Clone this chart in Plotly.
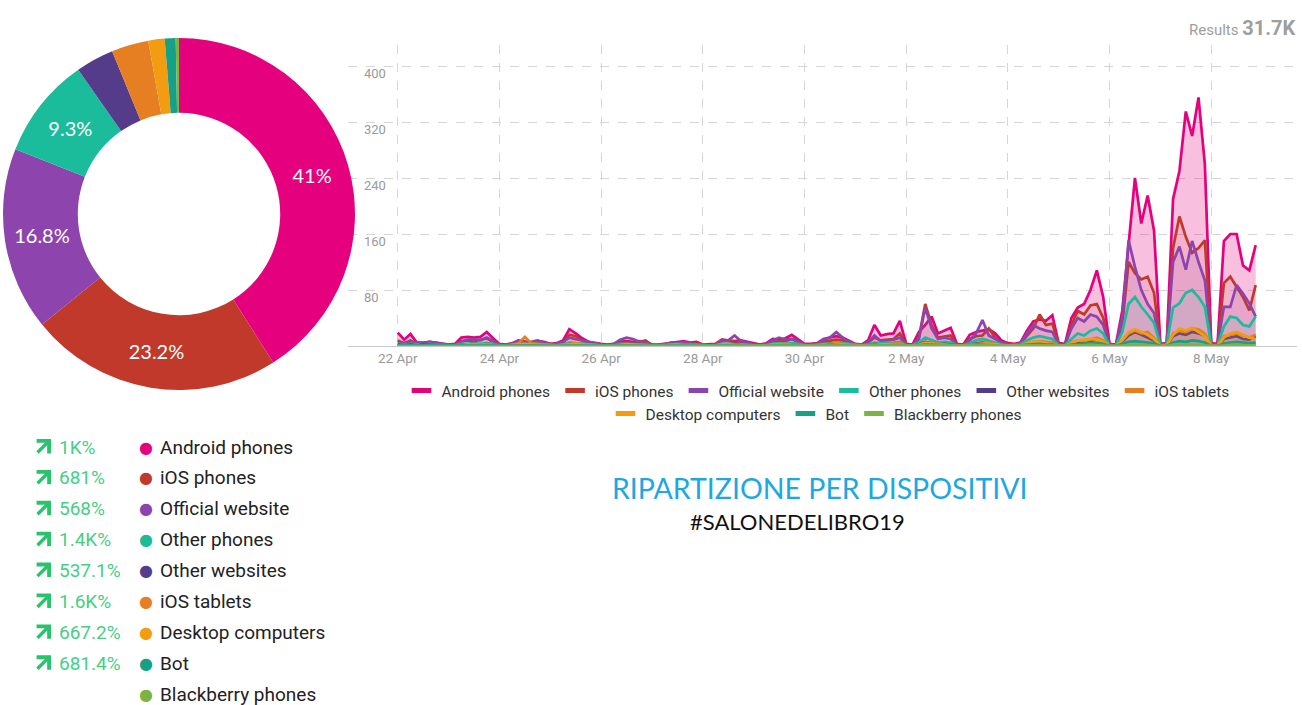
import pandas as pd
import plotly.graph_objects as go

W, H = 1302, 705


def px(x):
    return x / W


def py(y):
    return 1 - y / H


# ---------------- data ----------------
devices = ["Android phones", "iOS phones", "Official website", "Other phones",
           "Other websites", "iOS tablets", "Desktop computers", "Bot",
           "Blackberry phones"]
colors = ["#e5007e", "#c0392b", "#8e44ad", "#1abc9c", "#553c8b",
          "#e67e22", "#f39c12", "#16a085", "#7cb342"]
shares = [41, 23.2, 16.8, 9.3, 3.5, 3.4, 1.5, 1.0, 0.3]
changes = ["1K%", "681%", "568%", "1.4K%", "537.1%", "1.6K%", "667.2%", "681.4%", ""]
results_total = "31.7K"

# 3-hourly timestamps from 22 Apr 2019 00:00 to 8 May 2019 21:00
times = pd.date_range("2019-04-22 00:00", periods=136, freq="3h")

android = [19, 9, 17, 5, 5, 6, 5, 3,
           2, 3, 12, 13, 12, 13, 20, 11,
           3, 2, 4, 8, 7, 5, 7, 6,
           3, 4, 8, 24, 18, 11, 6, 4,
           3, 2, 3, 6, 7, 6, 7, 6,
           2, 2, 3, 5, 6, 7, 5, 6,
           2, 2, 3, 9, 8, 7, 8, 6,
           3, 2, 4, 10, 9, 11, 16, 9,
           3, 3, 4, 10, 12, 14, 12, 8,
           3, 2, 8, 30, 15, 17, 18, 36,
           3, 2, 20, 30, 42, 18, 22, 26,
           3, 2, 16, 20, 22, 24, 18, 8,
           4, 3, 5, 22, 35, 38, 36, 44,
           4, 3, 40, 55, 60, 80, 108, 70,
           3, 2, 50, 140, 240, 175, 215, 165,
           3, 4, 210, 250, 335, 300, 355, 260,
           4, 3, 150, 160, 160, 115, 108, 144]
ios_phones = [8, 4, 8, 3, 3, 4, 3, 2,
              1, 2, 7, 8, 7, 9, 11, 6,
              2, 1, 3, 6, 5, 4, 5, 4,
              2, 2, 5, 16, 14, 8, 4, 3,
              2, 1, 2, 4, 5, 4, 6, 8,
              1, 1, 2, 4, 5, 5, 3, 4,
              1, 1, 2, 9, 7, 6, 5, 4,
              2, 1, 3, 7, 6, 7, 10, 6,
              2, 2, 3, 6, 8, 9, 8, 5,
              2, 1, 5, 12, 8, 9, 10, 18,
              2, 1, 12, 60, 30, 12, 14, 15,
              2, 1, 10, 14, 15, 25, 12, 5,
              2, 2, 4, 15, 25, 45, 30, 32,
              3, 2, 30, 50, 45, 58, 60, 40,
              2, 1, 30, 120, 104, 95, 99, 76,
              2, 3, 140, 185, 156, 133, 140, 151,
              3, 2, 90, 99, 85, 70, 51, 87]
official_site = [5, 4, 6, 5, 4, 6, 5, 3,
                 1, 2, 6, 9, 10, 8, 12, 7,
                 2, 1, 3, 7, 5, 6, 8, 5,
                 2, 3, 6, 12, 10, 8, 6, 3,
                 2, 1, 3, 9, 12, 10, 6, 5,
                 1, 1, 2, 5, 4, 6, 4, 3,
                 1, 1, 2, 7, 8, 15, 7, 5,
                 2, 1, 3, 8, 12, 9, 10, 7,
                 2, 2, 3, 9, 12, 20, 12, 6,
                 2, 1, 5, 15, 7, 8, 9, 12,
                 2, 1, 10, 55, 25, 10, 12, 10,
                 2, 1, 8, 18, 37, 15, 10, 5,
                 2, 2, 4, 18, 30, 25, 22, 20,
                 2, 2, 25, 40, 35, 45, 42, 30,
                 2, 1, 40, 151, 113, 80, 60, 47,
                 2, 3, 120, 142, 109, 150, 120, 94,
                 3, 2, 56, 56, 87, 75, 61, 42]
other_phones = [3, 2, 3, 2, 2, 3, 2, 1,
                1, 1, 3, 3, 4, 3, 4, 3,
                1, 1, 2, 3, 3, 2, 3, 2,
                1, 1, 2, 5, 4, 3, 2, 2,
                1, 1, 1, 3, 3, 3, 2, 2,
                1, 1, 1, 2, 3, 2, 2, 2,
                1, 1, 1, 3, 3, 3, 2, 2,
                1, 1, 1, 3, 4, 3, 4, 3,
                1, 1, 2, 4, 4, 5, 4, 3,
                1, 1, 2, 5, 4, 4, 5, 6,
                1, 1, 5, 12, 9, 5, 6, 5,
                1, 1, 4, 8, 10, 7, 5, 2,
                1, 1, 2, 8, 12, 14, 12, 10,
                1, 1, 10, 18, 15, 22, 25, 18,
                1, 1, 20, 60, 70, 56, 45, 33,
                1, 2, 55, 61, 76, 80, 70, 56,
                1, 1, 28, 42, 40, 30, 28, 42]
other_websites = [2, 1, 2, 1, 2, 2, 1, 1,
                  0, 1, 2, 2, 3, 2, 3, 2,
                  1, 0, 1, 2, 2, 1, 2, 1,
                  1, 1, 1, 3, 3, 2, 1, 1,
                  0, 0, 1, 2, 2, 2, 1, 1,
                  0, 0, 1, 1, 2, 1, 1, 1,
                  0, 0, 1, 2, 2, 3, 1, 1,
                  0, 0, 1, 2, 2, 2, 2, 1,
                  1, 0, 1, 2, 3, 4, 2, 1,
                  0, 0, 1, 3, 2, 2, 2, 3,
                  1, 0, 2, 6, 4, 2, 3, 2,
                  0, 0, 2, 3, 5, 3, 2, 1,
                  1, 0, 1, 3, 5, 6, 5, 4,
                  1, 0, 4, 6, 6, 8, 9, 6,
                  1, 0, 6, 15, 20, 16, 12, 8,
                  1, 1, 14, 18, 16, 20, 18, 15,
                  1, 0, 10, 12, 14, 10, 9, 14]
ios_tablets = [1, 1, 2, 2, 2, 2, 2, 1,
               0, 1, 2, 2, 3, 2, 3, 2,
               1, 0, 2, 4, 13, 4, 3, 2,
               1, 1, 2, 3, 4, 3, 2, 1,
               0, 0, 1, 2, 3, 2, 2, 1,
               0, 0, 1, 2, 2, 2, 1, 1,
               0, 0, 1, 2, 3, 2, 2, 1,
               0, 0, 1, 2, 3, 3, 2, 2,
               1, 0, 1, 3, 3, 4, 3, 2,
               0, 0, 1, 3, 2, 3, 3, 4,
               1, 0, 2, 5, 4, 3, 3, 2,
               0, 0, 2, 3, 4, 4, 3, 1,
               1, 0, 1, 4, 6, 7, 6, 5,
               1, 0, 5, 8, 7, 10, 12, 8,
               1, 0, 8, 18, 22, 18, 20, 12,
               1, 1, 18, 22, 20, 25, 24, 18,
               1, 0, 14, 16, 18, 15, 12, 16]
desktop = [1, 0, 1, 1, 2, 2, 1, 1,
           0, 0, 1, 2, 2, 2, 2, 1,
           0, 0, 1, 2, 3, 2, 2, 1,
           0, 0, 1, 2, 3, 2, 1, 1,
           0, 0, 1, 2, 2, 2, 1, 1,
           0, 0, 1, 1, 2, 1, 1, 0,
           0, 0, 1, 2, 2, 2, 1, 1,
           0, 0, 1, 2, 2, 2, 1, 1,
           0, 0, 1, 2, 3, 3, 2, 1,
           0, 0, 1, 2, 2, 2, 1, 1,
           0, 0, 1, 4, 3, 2, 2, 1,
           0, 0, 1, 3, 3, 3, 2, 1,
           0, 0, 1, 4, 6, 6, 4, 3,
           0, 0, 4, 8, 9, 10, 9, 6,
           0, 0, 8, 20, 24, 20, 16, 10,
           0, 1, 16, 25, 22, 26, 20, 14,
           0, 0, 12, 18, 20, 16, 12, 10]
bot = [1, 1, 1, 1, 1, 1, 1, 1,
       0, 0, 1, 1, 1, 1, 1, 1,
       0, 0, 1, 1, 1, 1, 1, 0,
       0, 0, 1, 1, 1, 1, 1, 0,
       0, 0, 1, 1, 1, 1, 1, 0,
       0, 0, 0, 1, 1, 1, 1, 0,
       0, 0, 1, 1, 1, 1, 1, 0,
       0, 0, 1, 1, 1, 1, 1, 1,
       0, 0, 1, 1, 2, 1, 1, 1,
       0, 0, 1, 2, 1, 1, 1, 1,
       0, 0, 1, 2, 2, 1, 1, 1,
       0, 0, 1, 2, 2, 1, 1, 0,
       0, 0, 1, 2, 3, 3, 2, 2,
       0, 0, 2, 3, 3, 4, 4, 3,
       0, 0, 3, 6, 7, 6, 5, 4,
       0, 0, 5, 7, 6, 8, 7, 5,
       0, 0, 4, 5, 6, 5, 4, 5]
blackberry = [0, 0, 0, 0, 0, 0, 0, 0,
              0, 0, 0, 0, 1, 0, 0, 0,
              0, 0, 0, 0, 0, 0, 0, 0,
              0, 0, 0, 1, 0, 0, 0, 0,
              0, 0, 0, 0, 0, 0, 0, 0,
              0, 0, 0, 0, 0, 0, 0, 0,
              0, 0, 0, 0, 1, 0, 0, 0,
              0, 0, 0, 0, 0, 0, 0, 0,
              0, 0, 0, 0, 0, 1, 0, 0,
              0, 0, 0, 1, 0, 0, 0, 0,
              0, 0, 0, 1, 0, 0, 0, 0,
              0, 0, 0, 0, 1, 0, 0, 0,
              0, 0, 0, 1, 1, 1, 0, 0,
              0, 0, 1, 1, 1, 2, 1, 1,
              0, 0, 1, 2, 2, 2, 1, 1,
              0, 0, 2, 2, 2, 3, 2, 1,
              0, 0, 1, 2, 2, 1, 1, 1]

series = [android, ios_phones, official_site, other_phones, other_websites,
          ios_tablets, desktop, bot, blackberry]

y_ticks = [80, 160, 240, 320, 400]


def rgba(hex_color, a):
    h = hex_color.lstrip("#")
    r, g, b = int(h[0:2], 16), int(h[2:4], 16), int(h[4:6], 16)
    return f"rgba({r},{g},{b},{a})"


fig = go.Figure()

# ---------------- donut ----------------
fig.add_trace(go.Pie(
    labels=devices, values=shares, sort=False, direction="clockwise",
    hole=0.575, marker=dict(colors=colors, line=dict(width=0)),
    text=[f"{v:g}%" if v > 5 else "" for v in shares],
    textinfo="text", textposition="inside",
    insidetextorientation="horizontal",
    textfont=dict(family="Lato", size=20, color="white"),
    domain=dict(x=[px(3), px(355)], y=[py(390), py(38)]),
    showlegend=False, hoverinfo="label+percent",
))

# ---------------- time series ----------------
for i, (name, col, vals) in enumerate(zip(devices, colors, series)):
    fig.add_trace(go.Scatter(
        x=times, y=vals, name=name, mode="lines",
        line=dict(color=col, width=2.7, shape="linear"),
        fill="tozeroy",
        fillcolor=rgba(col, 0.25 if i == 0 else 0.10),
        legendgroup=name, showlegend=False,
    ))

# legend entries (short thick bars, as in the original legend)
for i, (name, col) in enumerate(zip(devices, colors)):
    fig.add_trace(go.Scatter(
        x=[None], y=[None], name=name, mode="markers",
        marker=dict(symbol="line-ew", size=14, color=col,
                    line=dict(color=col, width=5)),
        legendgroup=name,
        legend="legend" if i < 6 else "legend2",
        legendrank=i, hoverinfo="skip",
    ))

grid = dict(showgrid=True, gridcolor="#d6d6d6", griddash="dash", gridwidth=1)

fig.update_layout(
    width=W, height=H, autosize=False,
    margin=dict(l=0, r=0, t=0, b=0),
    paper_bgcolor="white", plot_bgcolor="white",
    font=dict(family="Roboto", color="#333333"),
    xaxis=dict(
        domain=[px(348), px(1297)],
        type="date",
        range=["2019-04-21 00:30", "2019-05-09 16:30"],
        tick0="2019-04-22", dtick=2 * 86400000,
        tickformat="%-d %b",
        tickfont=dict(family="Roboto", size=13.5, color="#9a9a9a"),
        showline=True, linecolor="#c8c8c8", linewidth=1,
        ticks="", zeroline=False,
        **grid,
    ),
    yaxis=dict(
        domain=[py(346), py(45)],
        range=[0, 430],
        tickvals=y_ticks,
        ticklabelposition="inside",
        ticklabelstandoff=13,
        ticklabelshift=7,
        tickfont=dict(family="Roboto", size=13, color="#9a9a9a"),
        zeroline=False, ticks="",
        **grid,
    ),
    legend=dict(
        orientation="h", x=px(818), xanchor="center",
        y=py(374), yanchor="top",
        font=dict(family="Roboto", size=15.5, color="#333333"),
        itemwidth=30, bgcolor="rgba(0,0,0,0)",
    ),
    legend2=dict(
        orientation="h", x=px(816), xanchor="center",
        y=py(397), yanchor="top",
        font=dict(family="Roboto", size=15.5, color="#333333"),
        itemwidth=30, bgcolor="rgba(0,0,0,0)",
    ),
)

annotations = []
# Results total
annotations.append(dict(
    x=px(1297), y=py(28), xref="paper", yref="paper",
    xanchor="right", yanchor="middle", showarrow=False,
    text=f"Results <span style='font-size:20px'><b>{results_total}</b></span>",
    font=dict(family="Roboto", size=15, color="#9e9e9e"),
))

# Left list of devices with growth
for i, (name, col, chg) in enumerate(zip(devices, colors, changes)):
    y_px = 447 + 30.9 * i
    yy = py(y_px)
    if chg:
        annotations.append(dict(
            x=px(51), y=py(y_px - 8), xref="paper", yref="paper",
            text="", showarrow=True, ax=-15, ay=15,
            arrowhead=4, arrowsize=1.0, arrowwidth=3.4,
            arrowcolor="#27c46b", standoff=0, startstandoff=0,
        ))
        annotations.append(dict(
            x=px(57), y=yy, xref="paper", yref="paper", xanchor="left",
            yanchor="middle", showarrow=False, text=chg,
            font=dict(family="Roboto", size=19, color="#45cf85"),
        ))
    annotations.append(dict(
        x=px(146), y=yy, xref="paper", yref="paper", xanchor="center",
        yanchor="middle", showarrow=False, text="●",
        font=dict(family="DejaVu Sans", size=16, color=col),
    ))
    annotations.append(dict(
        x=px(158), y=yy, xref="paper", yref="paper", xanchor="left",
        yanchor="middle", showarrow=False, text=name,
        font=dict(family="Roboto", size=19, color="#222222"),
    ))

# Titles
annotations.append(dict(
    x=px(820), y=py(488), xref="paper", yref="paper", xanchor="center",
    yanchor="middle", showarrow=False, text="RIPARTIZIONE PER DISPOSITIVI",
    font=dict(family="Lato", size=28.5, color="#1ea7e1"),
))
annotations.append(dict(
    x=px(797), y=py(521), xref="paper", yref="paper", xanchor="center",
    yanchor="middle", showarrow=False, text="#SALONEDELIBRO19",
    font=dict(family="Lato", size=22, color="#111111"),
))

fig.update_layout(annotations=annotations)

fig.write_html(
    "out.html",
    config={"displayModeBar": False},
    post_script="document.body.style.margin='0';document.body.style.overflow='hidden';",
)
